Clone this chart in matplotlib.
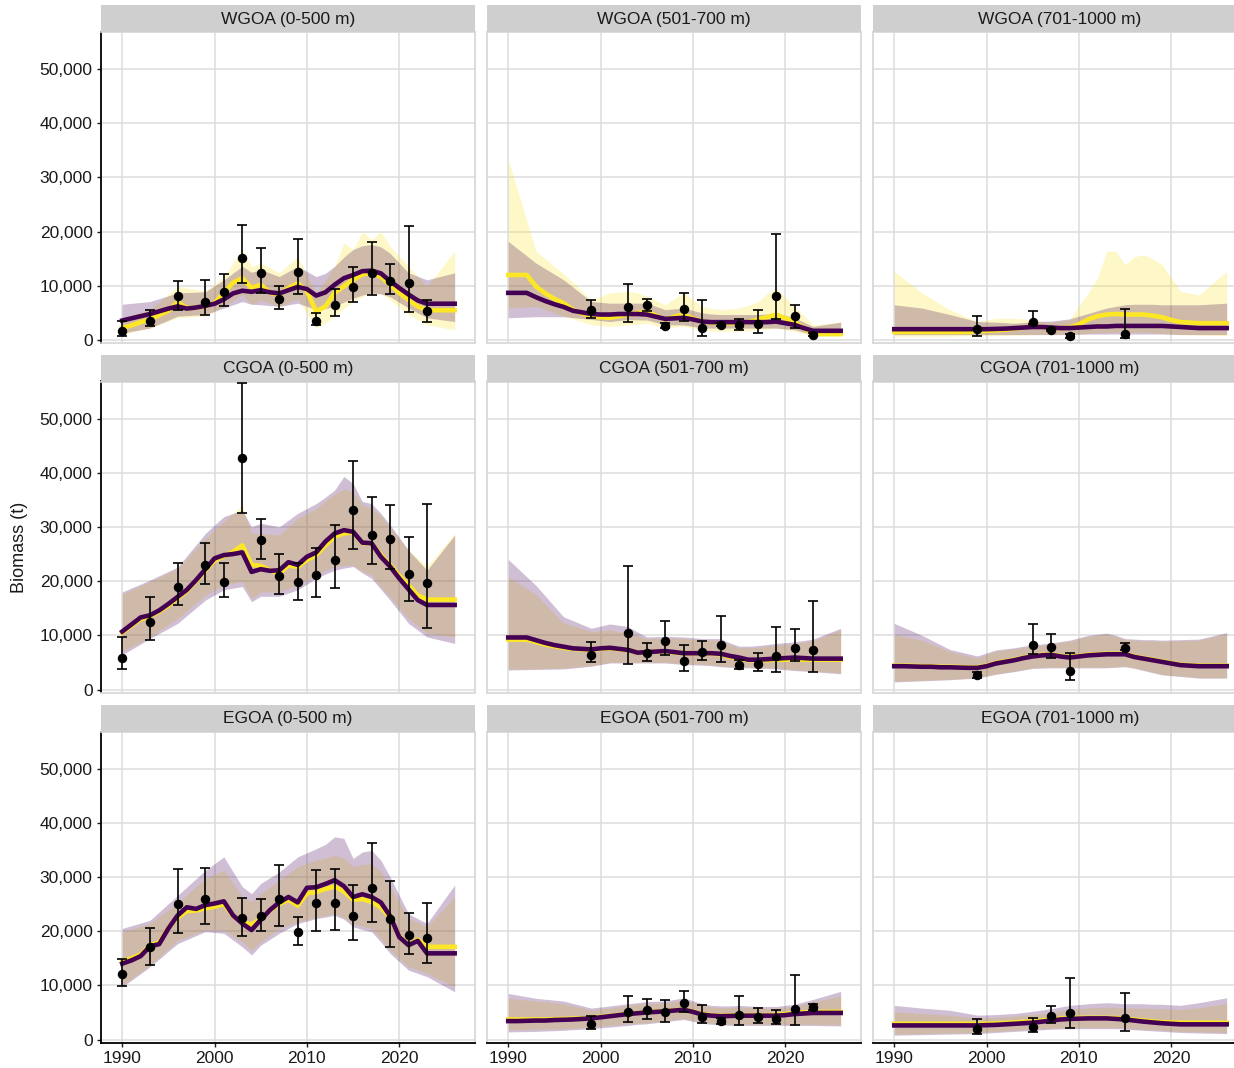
import matplotlib
matplotlib.use("Agg")
import matplotlib.pyplot as plt
import numpy as np
from matplotlib.ticker import FuncFormatter

plt.rcParams['font.family'] = ['Liberation Sans', 'DejaVu Sans']

# all biomass values below are in thousands of tonnes
SCALE = 1000

YEARS = list(range(1990, 2027))
RIB_YEARS = [1990, 1993, 1996, 1999, 2001, 2003, 2004, 2005, 2007, 2009, 2011,
             2012, 2013, 2014, 2015, 2016, 2017, 2018, 2019, 2021, 2023, 2026]

# ---- WGOA (0-500 m)
wgoa_s_purple = [3.6, 4.0, 4.4, 4.8, 5.3, 5.8, 6.2, 5.8, 6.0, 6.3, 6.7, 7.5, 8.6, 9.1, 8.9, 9.2, 8.8, 8.6, 9.2,
                 9.8, 9.4, 8.2, 8.8, 10.2, 11.4, 12.0, 12.7, 12.8, 12.3, 10.9, 9.6, 8.4, 7.3, 6.7, 6.7, 6.7, 6.7]
wgoa_s_yellow = [2.2, 2.7, 3.3, 3.8, 4.6, 5.4, 7.0, 5.9, 6.0, 6.2, 6.8, 8.7, 10.6, 11.4, 9.6, 10.2, 8.7, 8.4, 9.6,
                 10.5, 9.0, 5.3, 6.2, 8.7, 9.9, 11.1, 12.1, 12.4, 11.7, 10.2, 8.7, 7.4, 6.2, 5.5, 5.5, 5.5, 5.5]
wgoa_s_y_hi = [4.1, 5.6, 9.9, 9.0, 11.7, 16.8, 13.5, 14.2, 12.4, 15.4, 8.7, 11.0, 13.6, 17.9, 16.7, 20.0, 18.5,
               20.0, 17.3, 13.6, 9.9, 16.4]
wgoa_s_y_lo = [1.0, 2.2, 4.1, 4.4, 6.2, 8.4, 6.5, 7.4, 6.2, 7.6, 2.2, 3.2, 4.4, 5.8, 7.1, 8.0, 8.7, 8.5, 7.4, 4.7,
               2.8, 1.9]
wgoa_s_p_hi = [6.6, 7.1, 8.7, 8.9, 11.1, 13.6, 12.5, 13.0, 11.7, 13.6, 11.7, 12.3, 13.6, 15.3, 16.7, 17.4, 17.6,
               17.2, 16.0, 12.4, 11.1, 12.4]
wgoa_s_p_lo = [1.3, 2.2, 4.4, 4.7, 5.9, 7.1, 6.6, 6.5, 6.2, 6.8, 5.6, 5.8, 6.2, 7.0, 7.7, 8.3, 8.7, 8.5, 8.0, 5.9,
               4.1, 3.4]
wgoa_s_obs_years = [1990, 1993, 1996, 1999, 2001, 2003, 2005, 2007, 2009, 2011, 2013, 2015, 2017, 2019, 2021, 2023]
wgoa_s_obs = [1.6, 3.5, 8.1, 7.1, 8.8, 15.1, 12.4, 7.6, 12.5, 3.5, 6.5, 9.7, 12.4, 10.8, 10.5, 5.3]
wgoa_s_obs_lo = [0.8, 2.5, 5.5, 4.7, 6.3, 10.5, 8.7, 5.8, 8.4, 2.7, 4.5, 7.1, 8.3, 8.4, 5.2, 3.4]
wgoa_s_obs_hi = [3.6, 5.6, 10.8, 11.0, 12.2, 21.2, 17.0, 10.0, 18.7, 5.0, 9.4, 13.4, 18.1, 14.1, 21.1, 7.4]

# ---- WGOA (501-700 m)
wgoa_m_purple = [8.7, 8.7, 8.7, 7.9, 7.2, 6.6, 6.1, 5.4, 5.1, 4.8, 4.7, 4.7, 4.8, 4.8, 4.8, 4.7, 4.3, 3.9, 4.0,
                 4.1, 3.8, 3.4, 3.3, 3.3, 3.3, 3.3, 3.3, 3.3, 3.3, 3.4, 3.1, 2.8, 2.2, 1.7, 1.7, 1.7, 1.7]
wgoa_m_yellow = [12.0, 12.0, 12.0, 9.9, 8.6, 7.6, 6.8, 5.6, 4.9, 4.4, 4.2, 4.1, 4.4, 4.7, 5.0, 5.3, 4.5, 3.8, 4.3,
                 4.7, 4.0, 3.4, 3.2, 3.1, 3.1, 3.1, 3.3, 3.8, 4.2, 4.7, 4.0, 3.4, 2.2, 1.1, 1.1, 1.1, 1.1]
wgoa_m_y_hi = [33.3, 16.4, 12.2, 7.4, 8.7, 9.0, 8.7, 8.1, 6.5, 8.7, 6.2, 5.8, 5.6, 5.7, 5.9, 6.4, 7.0, 8.5, 9.6,
               6.2, 2.8, 3.3]
wgoa_m_y_lo = [5.9, 6.2, 4.4, 2.8, 2.5, 2.8, 2.9, 3.1, 2.2, 2.5, 1.9, 1.7, 1.6, 1.6, 1.6, 1.7, 1.9, 2.0, 2.2, 1.6,
               0.7, 0.7]
wgoa_m_p_hi = [18.2, 14.2, 11.1, 7.1, 6.8, 6.8, 6.8, 6.8, 5.6, 5.9, 5.0, 4.8, 4.7, 4.7, 4.7, 4.7, 4.7, 4.8, 5.0,
               4.1, 2.5, 3.3]
wgoa_m_p_lo = [4.1, 4.3, 4.3, 3.8, 3.4, 3.8, 3.7, 3.7, 2.8, 2.8, 2.2, 2.2, 2.2, 2.2, 2.2, 2.2, 2.2, 2.2, 2.2, 1.9,
               1.0, 1.0]
wgoa_m_obs_years = [1999, 2003, 2005, 2007, 2009, 2011, 2013, 2015, 2017, 2019, 2021, 2023]
wgoa_m_obs = [5.6, 6.1, 6.5, 2.6, 5.7, 2.3, 2.8, 2.8, 3.0, 8.1, 4.4, 1.0]
wgoa_m_obs_lo = [4.1, 3.4, 5.3, 2.2, 3.6, 0.7, 2.5, 1.9, 1.3, 3.8, 2.2, 0.7]
wgoa_m_obs_hi = [7.3, 10.3, 7.6, 3.1, 8.7, 7.4, 3.1, 3.9, 5.6, 19.6, 6.4, 1.3]

# ---- WGOA (701-1000 m)
wgoa_d_purple = [2.0, 2.0, 2.0, 2.0, 2.0, 2.0, 2.0, 2.0, 2.0, 2.0, 2.0, 2.05, 2.1, 2.2, 2.3, 2.4, 2.4, 2.3, 2.2,
                 2.2, 2.3, 2.4, 2.5, 2.5, 2.6, 2.6, 2.6, 2.6, 2.6, 2.6, 2.5, 2.4, 2.3, 2.2, 2.2, 2.2, 2.2]
wgoa_d_yellow = [1.5, 1.5, 1.5, 1.5, 1.5, 1.5, 1.5, 1.5, 1.5, 1.6, 1.7, 1.8, 1.9, 2.1, 2.3, 2.5, 2.4, 2.2, 2.2,
                 2.3, 2.9, 3.8, 4.4, 4.7, 4.8, 4.7, 4.7, 4.7, 4.5, 4.2, 3.7, 3.3, 3.2, 3.1, 3.1, 3.1, 3.1]
wgoa_d_y_hi = [12.7, 8.7, 5.6, 3.4, 4.0, 4.0, 3.9, 3.7, 3.2, 3.8, 8.7, 11.4, 16.4, 16.4, 13.9, 15.4, 15.7, 15.0,
               13.9, 9.0, 8.3, 12.7]
wgoa_d_y_lo = [0.7, 0.7, 0.7, 0.8, 0.8, 0.9, 0.9, 1.0, 1.0, 1.0, 1.2, 1.3, 1.4, 1.4, 1.4, 1.4, 1.4, 1.3, 1.2, 1.0,
               0.9, 0.8]
wgoa_d_p_hi = [6.5, 5.9, 4.7, 3.4, 3.3, 3.1, 3.2, 3.4, 3.5, 3.9, 4.9, 5.4, 5.9, 6.2, 6.5, 6.6, 6.6, 6.6, 6.5, 6.5,
               6.5, 6.8]
wgoa_d_p_lo = [1.0, 1.0, 1.0, 1.0, 1.0, 1.0, 1.0, 1.0, 1.0, 1.0, 1.1, 1.1, 1.1, 1.1, 1.1, 1.1, 1.1, 1.1, 1.1, 1.0,
               1.0, 1.0]
wgoa_d_obs_years = [1999, 2005, 2007, 2009, 2015]
wgoa_d_obs = [2.0, 3.4, 1.9, 0.7, 1.2]
wgoa_d_obs_lo = [0.7, 3.0, 1.7, 0.4, 0.4]
wgoa_d_obs_hi = [4.4, 5.3, 2.1, 1.1, 5.8]

# ---- CGOA (0-500 m)
cgoa_s_purple = [10.7, 12.0, 13.3, 13.7, 14.6, 15.8, 17.1, 18.4, 20.2, 22.2, 24.2, 24.8, 25.0, 25.3, 21.7, 22.2,
                 21.9, 22.0, 23.5, 23.0, 24.5, 25.3, 27.3, 28.8, 29.4, 29.1, 27.1, 27.0, 24.5, 22.7, 20.5, 18.5,
                 16.5, 15.6, 15.6, 15.6, 15.6]
cgoa_s_yellow = [10.5, 11.8, 13.0, 13.5, 14.4, 15.5, 16.8, 18.2, 20.0, 22.0, 23.8, 24.6, 25.4, 26.6, 23.0, 22.8,
                 22.0, 21.4, 22.9, 22.6, 23.9, 24.8, 26.6, 28.2, 28.8, 29.0, 27.0, 27.0, 24.8, 23.0, 21.0, 19.2,
                 17.4, 16.6, 16.6, 16.6, 16.6]
cgoa_s_y_hi = [17.6, 19.9, 22.3, 27.9, 31.0, 34.0, 28.8, 28.8, 28.5, 31.6, 33.4, 34.8, 36.0, 37.0, 36.5, 34.0,
               33.5, 32.0, 30.0, 25.7, 22.7, 28.8]
cgoa_s_y_lo = [7.0, 9.7, 13.1, 17.4, 19.3, 19.9, 16.8, 18.0, 18.0, 19.3, 21.1, 22.0, 22.7, 22.9, 22.9, 21.8, 21.1,
               19.0, 17.1, 13.1, 10.4, 9.7]
cgoa_s_p_hi = [18.0, 20.2, 22.6, 28.8, 31.9, 33.1, 30.0, 30.7, 30.0, 32.5, 34.3, 35.5, 36.8, 39.3, 38.0, 34.7,
               34.3, 32.5, 30.4, 25.7, 22.0, 28.5]
cgoa_s_p_lo = [6.4, 9.4, 12.2, 16.5, 18.4, 19.0, 16.2, 17.2, 17.2, 18.4, 20.5, 21.3, 22.0, 22.4, 22.7, 21.5, 20.5,
               18.5, 16.5, 12.2, 9.7, 8.5]
cgoa_s_obs_years = [1990, 1993, 1996, 1999, 2001, 2003, 2005, 2007, 2009, 2011, 2013, 2015, 2017, 2019, 2021, 2023]
cgoa_s_obs = [5.9, 12.5, 19.0, 23.0, 19.9, 42.8, 27.5, 20.9, 19.8, 21.2, 23.9, 33.1, 28.6, 27.7, 21.4, 19.7]
cgoa_s_obs_lo = [3.7, 9.1, 15.6, 19.5, 17.0, 32.5, 24.0, 17.6, 16.6, 17.1, 18.8, 25.9, 23.2, 22.3, 16.4, 11.3]
cgoa_s_obs_hi = [9.6, 17.1, 23.3, 27.1, 23.3, 56.5, 31.4, 25.0, 23.4, 26.2, 30.3, 42.2, 35.5, 34.1, 28.1, 34.3]

# ---- CGOA (501-700 m)
cgoa_m_purple = [9.6, 9.6, 9.6, 9.1, 8.6, 8.2, 7.9, 7.6, 7.5, 7.4, 7.6, 7.7, 7.5, 7.3, 6.8, 6.9, 7.0, 7.1, 6.9,
                 6.7, 6.7, 6.7, 6.7, 6.6, 6.2, 5.9, 5.5, 5.5, 5.6, 5.7, 5.8, 5.9, 5.8, 5.7, 5.7, 5.7, 5.7]
cgoa_m_yellow = [9.2, 9.2, 9.2, 8.8, 8.3, 8.0, 7.7, 7.5, 7.4, 7.3, 7.5, 7.6, 7.4, 7.3, 6.8, 6.9, 7.0, 7.0, 6.8,
                 6.7, 6.7, 6.7, 6.6, 6.5, 6.0, 5.7, 5.4, 5.4, 5.4, 5.5, 5.5, 5.6, 5.5, 5.5, 5.5, 5.5, 5.5]
cgoa_m_y_hi = [20.8, 17.5, 12.3, 10.7, 11.0, 10.4, 9.9, 9.4, 9.5, 9.4, 9.1, 9.1, 9.1, 8.3, 7.7, 7.7, 7.8, 8.0, 8.2,
               8.5, 9.0, 11.0]
cgoa_m_y_lo = [3.75, 3.85, 3.95, 4.45, 5.0, 5.0, 5.0, 5.0, 5.0, 4.75, 4.65, 4.55, 4.35, 4.25, 4.15, 4.15, 4.05,
               4.05, 3.95, 3.65, 3.45, 3.05]
cgoa_m_p_hi = [24.0, 19.2, 13.4, 11.3, 12.1, 11.6, 10.6, 9.7, 9.8, 9.7, 9.4, 9.4, 9.4, 8.6, 8.0, 8.0, 8.1, 8.3,
               8.5, 8.8, 9.3, 11.3]
cgoa_m_p_lo = [3.6, 3.7, 3.8, 4.3, 4.9, 4.9, 4.9, 4.9, 4.9, 4.6, 4.5, 4.4, 4.2, 4.1, 4.0, 4.0, 3.9, 3.9, 3.8, 3.5,
               3.3, 2.9]
cgoa_m_obs_years = [1999, 2003, 2005, 2007, 2009, 2011, 2013, 2015, 2017, 2019, 2021, 2023]
cgoa_m_obs = [6.4, 10.5, 6.8, 8.9, 5.3, 7.0, 8.2, 4.6, 4.8, 6.1, 7.6, 7.2]
cgoa_m_obs_lo = [5.0, 4.8, 5.3, 6.4, 3.4, 5.4, 5.0, 3.8, 3.4, 3.2, 5.3, 3.2]
cgoa_m_obs_hi = [8.8, 22.8, 8.5, 12.7, 8.3, 8.9, 13.6, 5.5, 6.8, 11.5, 11.1, 16.4]

# ---- CGOA (701-1000 m)
cgoa_d_purple = [4.3, 4.3, 4.25, 4.2, 4.2, 4.1, 4.1, 4.05, 4.0, 4.0, 4.3, 4.8, 5.1, 5.4, 5.8, 6.1, 6.3, 6.4, 6.1,
                 5.9, 6.1, 6.3, 6.4, 6.5, 6.5, 6.5, 6.0, 5.7, 5.4, 5.1, 4.8, 4.5, 4.4, 4.3, 4.3, 4.3, 4.3]
cgoa_d_yellow = [4.4, 4.4, 4.35, 4.3, 4.3, 4.2, 4.2, 4.15, 4.1, 4.1, 4.4, 4.9, 5.2, 5.5, 5.9, 6.2, 6.4, 6.5, 6.2,
                 6.0, 6.2, 6.4, 6.5, 6.6, 6.6, 6.6, 6.1, 5.8, 5.5, 5.2, 4.9, 4.6, 4.5, 4.4, 4.4, 4.4, 4.4]
cgoa_d_y_hi = [10.1, 9.1, 7.0, 5.8, 7.1, 7.5, 7.8, 8.0, 8.4, 8.9, 9.8, 10.0, 10.2, 9.8, 9.2, 9.1, 9.0, 9.0, 8.9,
               9.0, 9.1, 10.3]
cgoa_d_y_lo = [1.5, 1.7, 1.9, 2.2, 2.9, 3.4, 3.7, 4.0, 4.1, 4.1, 4.1, 4.1, 4.1, 4.2, 4.3, 4.0, 3.6, 3.2, 2.8, 2.5,
               2.2, 2.2]
cgoa_d_p_hi = [12.2, 10.0, 7.4, 6.2, 7.3, 7.7, 8.0, 8.2, 8.6, 9.1, 10.0, 10.2, 10.4, 10.0, 9.4, 9.3, 9.2, 9.2, 9.1,
               9.2, 9.3, 10.5]
cgoa_d_p_lo = [1.4, 1.6, 1.8, 2.1, 2.8, 3.3, 3.6, 3.9, 4.0, 4.0, 4.0, 4.0, 4.0, 4.1, 4.2, 3.9, 3.5, 3.1, 2.7, 2.4,
               2.1, 2.1]
cgoa_d_obs_years = [1999, 2005, 2007, 2009, 2015]
cgoa_d_obs = [2.7, 8.2, 7.8, 3.5, 7.7]
cgoa_d_obs_lo = [2.1, 6.5, 5.9, 1.8, 7.3]
cgoa_d_obs_hi = [3.3, 12.1, 10.2, 6.8, 8.5]

# ---- EGOA (0-500 m)
egoa_s_purple = [14.0, 14.6, 15.4, 17.2, 17.6, 20.5, 22.9, 24.4, 24.1, 24.8, 25.1, 25.5, 22.9, 21.4, 20.2, 22.1,
                 23.9, 25.3, 26.3, 25.3, 28.0, 28.1, 28.7, 29.4, 28.3, 26.3, 26.8, 26.3, 25.3, 22.8, 18.9, 17.4,
                 18.2, 15.9, 15.9, 15.9, 15.9]
egoa_s_yellow = [14.5, 15.0, 15.7, 17.4, 17.9, 20.6, 22.5, 23.7, 23.8, 24.2, 24.5, 25.0, 22.8, 21.7, 21.2, 22.3,
                 23.8, 25.0, 25.8, 24.7, 27.0, 27.2, 27.8, 28.2, 27.3, 25.8, 25.9, 25.4, 24.4, 22.5, 19.0, 17.4,
                 18.4, 17.1, 17.1, 17.1, 17.1]
egoa_s_y_hi = [19.9, 21.4, 25.2, 29.7, 31.2, 26.4, 25.4, 26.9, 29.4, 31.9, 33.1, 33.5, 34.0, 33.5, 31.9, 32.3,
               32.5, 31.0, 28.2, 22.4, 20.8, 26.3]
egoa_s_y_lo = [10.0, 13.7, 18.3, 20.2, 20.2, 18.0, 16.5, 18.0, 20.5, 21.7, 22.6, 22.9, 23.2, 22.5, 21.4, 20.9,
               20.5, 18.6, 16.5, 13.4, 12.2, 9.7]
egoa_s_p_hi = [20.5, 22.0, 26.6, 31.2, 33.7, 28.2, 26.9, 28.8, 30.9, 33.7, 35.2, 36.0, 37.4, 37.1, 33.4, 34.6,
               34.9, 33.1, 30.0, 23.2, 21.4, 28.5]
egoa_s_p_lo = [9.7, 13.4, 17.7, 19.9, 19.6, 17.1, 15.6, 17.4, 19.6, 21.4, 22.3, 22.6, 22.9, 22.2, 20.8, 20.3,
               19.9, 18.0, 15.9, 12.8, 11.6, 8.8]
egoa_s_obs_years = [1990, 1993, 1996, 1999, 2003, 2005, 2007, 2009, 2011, 2013, 2015, 2017, 2019, 2021, 2023]
egoa_s_obs = [12.0, 17.0, 25.0, 26.0, 22.5, 22.8, 26.0, 19.9, 25.1, 25.1, 22.8, 27.9, 22.3, 19.2, 18.8]
egoa_s_obs_lo = [9.8, 13.8, 19.7, 21.3, 19.1, 20.0, 20.9, 17.4, 20.0, 20.2, 18.3, 21.6, 17.0, 15.7, 14.1]
egoa_s_obs_hi = [14.8, 20.5, 31.5, 31.7, 26.2, 25.9, 32.2, 22.6, 31.2, 31.4, 28.5, 36.2, 29.3, 23.4, 25.1]

# ---- EGOA (501-700 m)
egoa_m_purple = [3.4, 3.4, 3.45, 3.5, 3.5, 3.6, 3.65, 3.7, 3.8, 3.9, 4.1, 4.3, 4.5, 4.7, 4.85, 5.0, 5.1, 5.2, 5.35,
                 5.5, 5.1, 4.6, 4.4, 4.3, 4.35, 4.4, 4.4, 4.4, 4.4, 4.4, 4.5, 4.7, 4.8, 4.9, 4.9, 4.9, 4.9]
egoa_m_yellow = [3.7, 3.7, 3.7, 3.7, 3.7, 3.75, 3.8, 3.85, 3.9, 4.0, 4.2, 4.35, 4.55, 4.75, 4.9, 5.05, 5.15, 5.25,
                 5.4, 5.55, 5.15, 4.7, 4.5, 4.4, 4.45, 4.5, 4.5, 4.5, 4.5, 4.55, 4.7, 4.9, 5.0, 5.1, 5.1, 5.1, 5.1]
egoa_m_y_hi = [7.6, 7.1, 6.6, 5.4, 5.8, 6.3, 6.5, 6.6, 6.8, 7.3, 6.3, 6.0, 5.9, 5.9, 6.0, 5.9, 5.8, 5.8, 5.8, 6.1,
               7.0, 8.0]
egoa_m_y_lo = [1.8, 1.9, 2.0, 2.3, 2.6, 2.9, 3.0, 3.1, 3.5, 3.9, 3.2, 3.0, 2.9, 2.8, 2.8, 2.8, 2.8, 2.8, 2.8, 2.8,
               2.8, 2.7]
egoa_m_p_hi = [8.5, 7.6, 7.1, 5.8, 6.2, 6.6, 6.8, 7.0, 7.1, 7.7, 6.6, 6.3, 6.2, 6.2, 6.3, 6.2, 6.1, 6.1, 6.1, 6.5,
               7.4, 8.9]
egoa_m_p_lo = [1.4, 1.5, 1.7, 2.0, 2.3, 2.6, 2.8, 2.9, 3.3, 3.7, 3.0, 2.8, 2.7, 2.6, 2.6, 2.6, 2.6, 2.6, 2.6, 2.6,
               2.6, 2.5]
egoa_m_obs_years = [1999, 2003, 2005, 2007, 2009, 2011, 2013, 2015, 2017, 2019, 2021, 2023]
egoa_m_obs = [2.8, 5.1, 5.4, 5.1, 6.8, 4.1, 3.4, 4.5, 4.2, 3.7, 5.6, 6.0]
egoa_m_obs_lo = [1.9, 3.3, 3.7, 3.3, 5.1, 3.1, 2.8, 2.6, 3.1, 2.8, 2.6, 5.5]
egoa_m_obs_hi = [4.4, 8.1, 7.4, 7.3, 9.0, 6.3, 3.9, 8.0, 5.8, 5.4, 11.9, 6.6]

# ---- EGOA (701-1000 m)
egoa_d_purple = [2.6, 2.6, 2.6, 2.6, 2.6, 2.6, 2.6, 2.6, 2.6, 2.6, 2.65, 2.7, 2.8, 2.9, 3.0, 3.1, 3.3, 3.5, 3.7,
                 3.8, 3.85, 3.9, 3.9, 3.9, 3.8, 3.7, 3.5, 3.3, 3.15, 3.0, 2.9, 2.8, 2.8, 2.8, 2.8, 2.8, 2.8]
egoa_d_yellow = [2.9, 2.9, 2.9, 2.9, 2.9, 2.9, 2.9, 2.9, 2.9, 2.9, 2.9, 2.95, 3.05, 3.15, 3.25, 3.35, 3.5, 3.7,
                 3.85, 3.95, 4.0, 4.0, 4.0, 4.0, 3.95, 3.85, 3.7, 3.5, 3.35, 3.2, 3.15, 3.1, 3.1, 3.1, 3.1, 3.1,
                 3.1]
egoa_d_y_hi = [5.1, 4.8, 4.5, 3.9, 4.1, 4.3, 4.5, 4.6, 5.0, 5.6, 5.8, 5.9, 6.0, 5.9, 5.8, 5.8, 5.8, 5.7, 5.7, 5.5,
               5.9, 6.6]
egoa_d_y_lo = [1.0, 1.1, 1.2, 1.3, 1.5, 1.7, 1.8, 1.9, 2.1, 2.2, 2.2, 2.2, 2.2, 2.2, 2.1, 2.0, 1.9, 1.8, 1.7, 1.5,
               1.4, 1.3]
egoa_d_p_hi = [6.3, 5.8, 5.4, 4.5, 4.6, 4.8, 5.0, 5.2, 5.7, 6.3, 6.6, 6.7, 6.8, 6.7, 6.6, 6.6, 6.6, 6.5, 6.5, 6.3,
               6.8, 7.7]
egoa_d_p_lo = [0.8, 0.9, 1.0, 1.1, 1.3, 1.5, 1.6, 1.7, 1.9, 2.0, 2.0, 2.0, 2.0, 2.0, 1.9, 1.8, 1.7, 1.6, 1.5, 1.3,
               1.2, 1.1]
egoa_d_obs_years = [1999, 2005, 2007, 2009, 2015]
egoa_d_obs = [2.0, 2.3, 4.4, 4.9, 3.9]
egoa_d_obs_lo = [1.1, 1.4, 3.0, 2.2, 1.6]
egoa_d_obs_hi = [3.8, 3.9, 6.2, 11.3, 8.6]

panels = [
    ("WGOA (0-500 m)", wgoa_s_yellow, wgoa_s_purple, wgoa_s_y_lo, wgoa_s_y_hi, wgoa_s_p_lo, wgoa_s_p_hi,
     wgoa_s_obs_years, wgoa_s_obs, wgoa_s_obs_lo, wgoa_s_obs_hi),
    ("WGOA (501-700 m)", wgoa_m_yellow, wgoa_m_purple, wgoa_m_y_lo, wgoa_m_y_hi, wgoa_m_p_lo, wgoa_m_p_hi,
     wgoa_m_obs_years, wgoa_m_obs, wgoa_m_obs_lo, wgoa_m_obs_hi),
    ("WGOA (701-1000 m)", wgoa_d_yellow, wgoa_d_purple, wgoa_d_y_lo, wgoa_d_y_hi, wgoa_d_p_lo, wgoa_d_p_hi,
     wgoa_d_obs_years, wgoa_d_obs, wgoa_d_obs_lo, wgoa_d_obs_hi),
    ("CGOA (0-500 m)", cgoa_s_yellow, cgoa_s_purple, cgoa_s_y_lo, cgoa_s_y_hi, cgoa_s_p_lo, cgoa_s_p_hi,
     cgoa_s_obs_years, cgoa_s_obs, cgoa_s_obs_lo, cgoa_s_obs_hi),
    ("CGOA (501-700 m)", cgoa_m_yellow, cgoa_m_purple, cgoa_m_y_lo, cgoa_m_y_hi, cgoa_m_p_lo, cgoa_m_p_hi,
     cgoa_m_obs_years, cgoa_m_obs, cgoa_m_obs_lo, cgoa_m_obs_hi),
    ("CGOA (701-1000 m)", cgoa_d_yellow, cgoa_d_purple, cgoa_d_y_lo, cgoa_d_y_hi, cgoa_d_p_lo, cgoa_d_p_hi,
     cgoa_d_obs_years, cgoa_d_obs, cgoa_d_obs_lo, cgoa_d_obs_hi),
    ("EGOA (0-500 m)", egoa_s_yellow, egoa_s_purple, egoa_s_y_lo, egoa_s_y_hi, egoa_s_p_lo, egoa_s_p_hi,
     egoa_s_obs_years, egoa_s_obs, egoa_s_obs_lo, egoa_s_obs_hi),
    ("EGOA (501-700 m)", egoa_m_yellow, egoa_m_purple, egoa_m_y_lo, egoa_m_y_hi, egoa_m_p_lo, egoa_m_p_hi,
     egoa_m_obs_years, egoa_m_obs, egoa_m_obs_lo, egoa_m_obs_hi),
    ("EGOA (701-1000 m)", egoa_d_yellow, egoa_d_purple, egoa_d_y_lo, egoa_d_y_hi, egoa_d_p_lo, egoa_d_p_hi,
     egoa_d_obs_years, egoa_d_obs, egoa_d_obs_lo, egoa_d_obs_hi),
]

YELLOW = '#FDE725'
PURPLE = '#440154'

W, H = 1234, 1068
fig = plt.figure(figsize=(W / 100, H / 100), dpi=100)

col_left = [101, 487, 873]
row_top = [32, 381.5, 731.5]
pw, ph, sh = 374, 311, 27

for i, p in enumerate(panels):
    (title, yel, pur, ylo, yhi, plo, phi, oyrs, oval, olo, ohi) = p
    r, c = divmod(i, 3)
    x0, y0 = col_left[c], row_top[r]
    ax = fig.add_axes([x0 / W, 1 - (y0 + ph) / H, pw / W, ph / H])

    s = lambda v: np.array(v) * SCALE
    # model ribbons, then fitted lines
    ax.fill_between(RIB_YEARS, s(ylo), s(yhi), color=YELLOW, alpha=0.25, lw=0)
    ax.fill_between(RIB_YEARS, s(plo), s(phi), color=PURPLE, alpha=0.25, lw=0)
    ax.plot(YEARS, s(yel), color=YELLOW, lw=3.3, solid_joinstyle='round')
    ax.plot(YEARS, s(pur), color=PURPLE, lw=3.3, solid_joinstyle='round')

    # survey observations
    val = s(oval)
    yerr = [val - s(olo), s(ohi) - val]
    ax.errorbar(oyrs, val, yerr=yerr, fmt='o', color='black', ms=5.8, elinewidth=1.2,
                capsize=3.3, capthick=1.2, zorder=5)

    ax.set_xlim(1987.7, 2028.2)
    ax.set_ylim(-550, 56830)
    ax.set_xticks([1990, 2000, 2010, 2020])
    ax.set_yticks(range(0, 50001, 10000))
    ax.yaxis.set_major_formatter(FuncFormatter(lambda v, pos: f"{int(v):,}"))
    ax.grid(True, color='#DCDCDC', lw=1.1)
    ax.set_axisbelow(True)
    for sp in ax.spines.values():
        sp.set_color('#D6D6D6')
        sp.set_linewidth(1.2)

    ax.tick_params(labelsize=12.5, colors='#1A1A1A', length=3, width=1.0, pad=3)
    if c == 0:
        ax.spines['left'].set_color('black')
        ax.spines['left'].set_linewidth(1.3)
    else:
        ax.tick_params(axis='y', left=False, labelleft=False)
    if r == 2:
        ax.spines['bottom'].set_color('black')
        ax.spines['bottom'].set_linewidth(1.3)
    else:
        ax.tick_params(axis='x', bottom=False, labelbottom=False)

    # facet strip
    sax = fig.add_axes([x0 / W, 1 - y0 / H, pw / W, sh / H])
    sax.set_facecolor('#CFCFCF')
    sax.set_xticks([])
    sax.set_yticks([])
    for sp in sax.spines.values():
        sp.set_visible(False)
    sax.text(0.5, 0.48, title, ha='center', va='center', fontsize=12.5, color='#1A1A1A',
             transform=sax.transAxes)

fig.text(20 / W, 1 - 547 / H, 'Biomass (t)', rotation=90, ha='center', va='center',
         fontsize=13, color='#1A1A1A')

fig.savefig('out.png', dpi=100)
